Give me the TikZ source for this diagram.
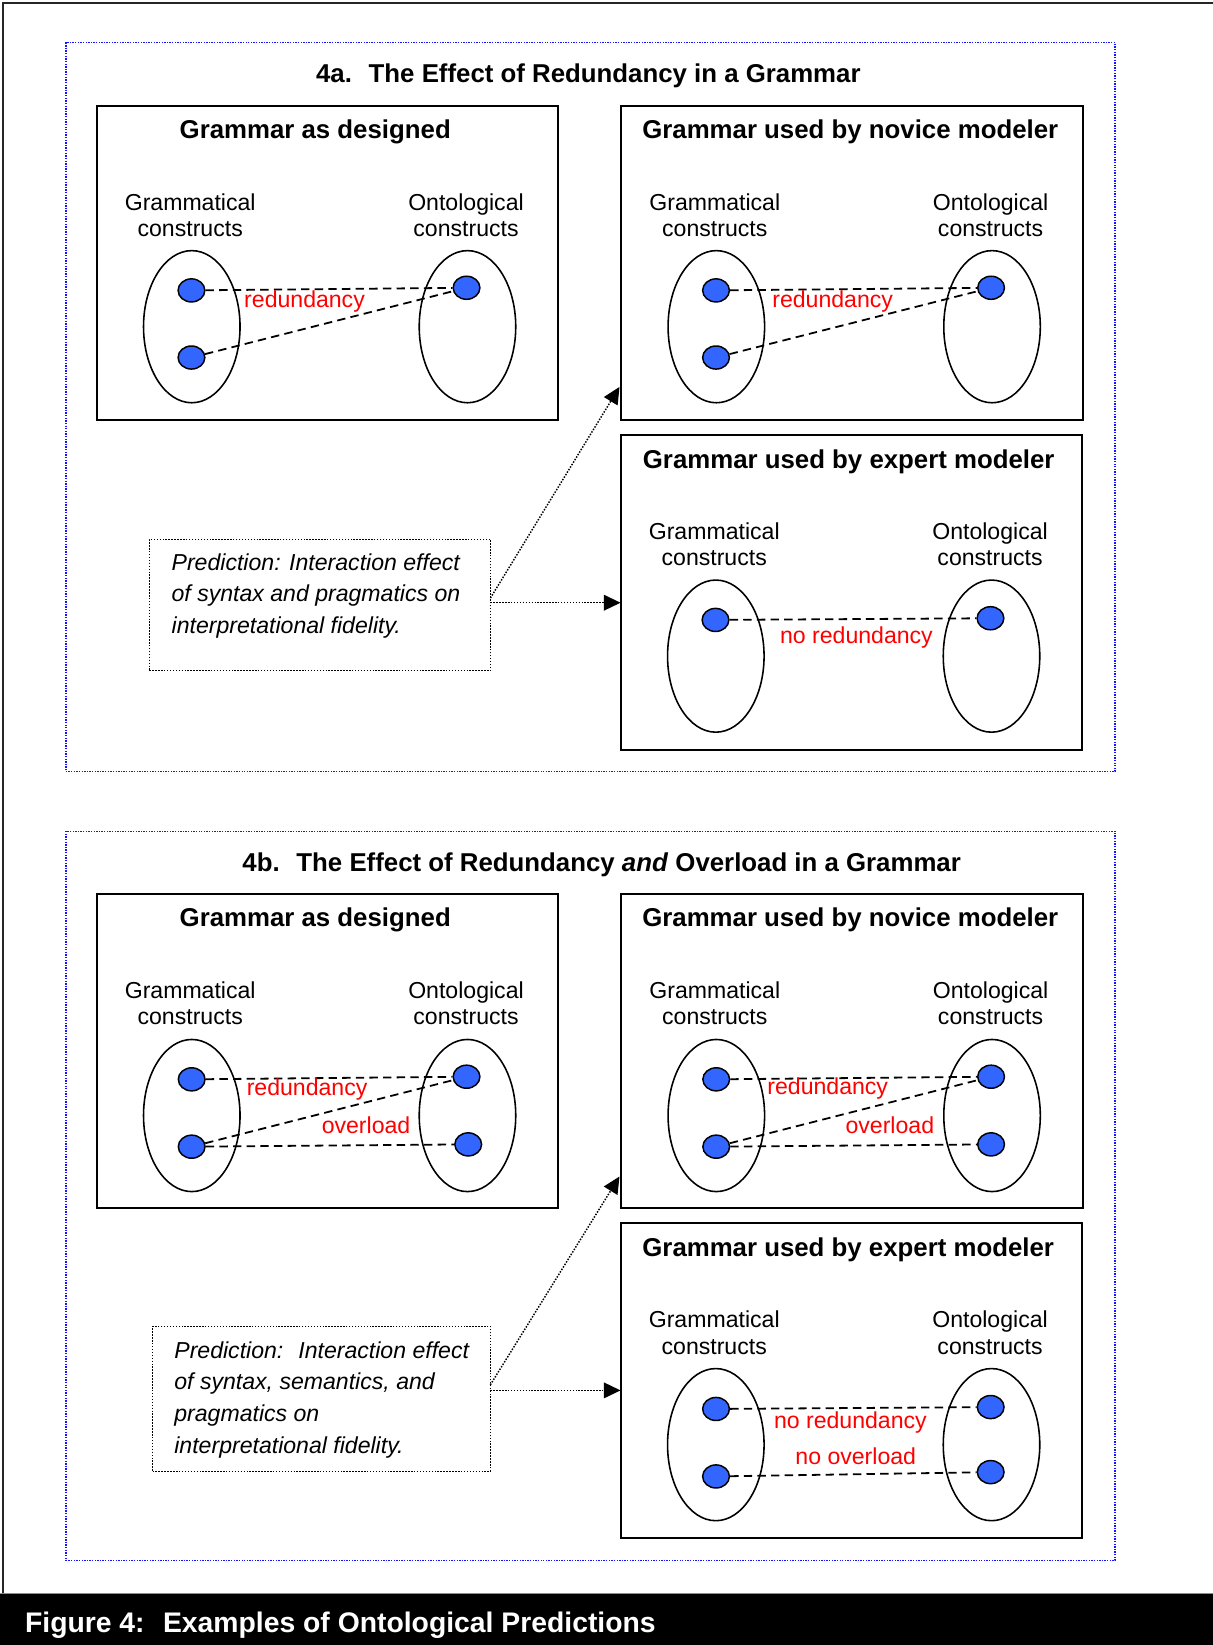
\documentclass[tikz,border=0pt]{standalone}
\usepackage{fontspec}
\setmainfont{Liberation Sans}
\usetikzlibrary{shapes.geometric,arrows.meta,calc}

\definecolor{dotblue}{RGB}{51,102,255}
\definecolor{panelblue}{RGB}{20,20,255}
\definecolor{lblred}{RGB}{255,0,0}

\tikzset{
  panel/.style={draw=panelblue, line width=1.4pt, dash pattern=on 1.3pt off 1.2pt,
    inner sep=0pt, outer sep=0pt, anchor=north west},
  gframe/.style={draw=black, line width=1.9pt, minimum width=440pt, minimum height=300pt,
    inner sep=0pt, outer sep=0pt, anchor=north west},
  predframe/.style={draw=black, line width=1.4pt, dash pattern=on 1.4pt off 1.4pt,
    inner sep=0pt, outer sep=0pt, anchor=north west},
  bigtitle/.style={font=\fontsize{24.6}{28}\selectfont\bfseries, inner sep=0pt, anchor=base},
  boxtitle/.style={font=\fontsize{24.6}{28}\selectfont\bfseries, inner sep=0pt, anchor=base},
  lbl/.style={font=\fontsize{22}{26}\selectfont, inner sep=0pt, anchor=base},
  redlbl/.style={font=\fontsize{22}{26}\selectfont, text=lblred, inner sep=0pt, anchor=base west},
  predtext/.style={font=\fontsize{22}{26}\selectfont\itshape, inner sep=0pt, anchor=base west},
  cset/.style={draw, ellipse, line width=1.5pt, minimum width=92pt, minimum height=145pt,
    inner sep=0pt},
  elem/.style={draw, ellipse, fill=dotblue, line width=1.4pt, minimum width=25.5pt,
    minimum height=22pt, inner sep=0pt},
  link/.style={draw=black, line width=1.7pt, dash pattern=on 8pt off 5pt},
  predarrow/.style={draw=black, line width=1.4pt, dash pattern=on 1.4pt off 1.4pt,
    -{Triangle[length=16pt,width=15pt]}},
  footer/.style={font=\fontsize{27}{30}\selectfont\bfseries, text=white, inner sep=0pt,
    anchor=base west}
}

% one grammar panel: name, left x, top y, heading, heading centre offset, set centre depth
\newcommand\grammarbox[6]{%
  \node[gframe] (#1) at (#2,-#3) {};
  \node[boxtitle] (#1-title) at ($(#1.north west)+(#5,-31.5)$) {#4};
  \node[lbl] (#1-gram1) at ($(#1.north west)+(89.3,-99.5)$) {Grammatical};
  \node[lbl] (#1-gram2) at ($(#1.north west)+(89.3,-124.8)$) {constructs};
  \node[lbl] (#1-onto1) at ($(#1.north west)+(352.2,-99.5)$) {Ontological};
  \node[lbl] (#1-onto2) at ($(#1.north west)+(352.2,-124.8)$) {constructs};
  \node[cset] (#1-left) at ($(#1.north west)+(90.8,-#6)$) {};
  \node[cset] (#1-right) at ($(#1.north west)+(353.6,-#6)$) {};
}

\begin{document}
\begin{tikzpicture}[x=1pt,y=1pt]
\useasboundingbox (0,0) rectangle (1156,-1568);

% page frame and caption band
\draw[line width=2.5pt, black!85] (1156,-2.7) -- (2.9,-2.7) -- (2.9,-1519.5);
\fill[black] (0,-1519.5) rectangle (1156,-1568);
\draw[line width=1pt, black!45] (0,-1519) -- (1156,-1519);
\node[footer] (caption) at (23.7,-1556) {Figure 4:~ Examples of Ontological Predictions};

% ---------------- 4a ----------------
\node[panel, minimum width=1000.2pt, minimum height=694.7pt] (panelA) at (62.7,-40.7) {};
\node[bigtitle] (titleA) at (560.8,-78.5) {4a.~ The Effect of Redundancy in a Grammar};

\grammarbox{A1}{92}{100.8}{Grammar as designed}{208.5}{210.6}
\grammarbox{A2}{592}{100.8}{Grammar used by novice modeler}{218.5}{210.6}
\grammarbox{A3}{591.5}{414.6}{Grammar used by expert modeler}{217.5}{210.8}

\node[elem] (A1-a) at ($(A1.north west)+(90.5,-176)$) {};
\node[elem] (A1-b) at ($(A1.north west)+(90.5,-240)$) {};
\node[elem] (A1-c) at ($(A1.north west)+(352.7,-173.5)$) {};
\draw[link] (A1-a) -- (A1-c);
\draw[link] (A1-b) -- (A1-c);
\node[redlbl] (A1-red) at ($(A1.north west)+(140.6,-192)$) {redundancy};

\node[elem] (A2-a) at ($(A2.north west)+(90.5,-176)$) {};
\node[elem] (A2-b) at ($(A2.north west)+(90.5,-240)$) {};
\node[elem] (A2-c) at ($(A2.north west)+(352.7,-173.5)$) {};
\draw[link] (A2-a) -- (A2-c);
\draw[link] (A2-b) -- (A2-c);
\node[redlbl] (A2-red) at ($(A2.north west)+(144,-192)$) {redundancy};

\node[elem] (A3-a) at ($(A3.north west)+(90.5,-176.3)$) {};
\node[elem] (A3-c) at ($(A3.north west)+(352.6,-174.7)$) {};
\draw[link] (A3-a) -- (A3-c);
\node[redlbl] (A3-red) at ($(A3.north west)+(151.9,-199.1)$) {no redundancy};

\node[predframe, minimum width=325.2pt, minimum height=125.2pt] (PA) at (142.3,-514) {};
\node[predtext] (PA-l1) at (163.4,-543.5) {Prediction: Interaction effect};
\node[predtext] (PA-l2) at (163.4,-573.8) {of syntax and pragmatics on};
\node[predtext] (PA-l3) at (163.4,-604) {interpretational fidelity.};

\coordinate (PAh) at ($(PA.north east)+(0,-60.5)$);
\coordinate (PAd) at ($(PA.north east)+(0,-56)$);
\coordinate (A2in) at ($(A2.south west)+(-1.5,32)$);
\draw[predarrow] (PAh) -- (PAh -| A3.west);
\draw[predarrow] (PAd) -- (A2in);

% ---------------- 4b ----------------
\node[panel, minimum width=1000.2pt, minimum height=694.9pt] (panelB) at (62.7,-792.5) {};
\node[bigtitle] (titleB) at (573.5,-830.5) {4b.~ The Effect of Redundancy \textit{and} Overload in a Grammar};

\grammarbox{B1}{92}{851.8}{Grammar as designed}{208.5}{211.5}
\grammarbox{B2}{592}{851.8}{Grammar used by novice modeler}{218.5}{211.5}
\grammarbox{B3}{591.5}{1166}{Grammar used by expert modeler}{217}{211}

\node[elem] (B1-a) at ($(B1.north west)+(90.7,-177)$) {};
\node[elem] (B1-b) at ($(B1.north west)+(90.7,-241.2)$) {};
\node[elem] (B1-c) at ($(B1.north west)+(352.7,-174.5)$) {};
\node[elem] (B1-d) at ($(B1.north west)+(354.3,-239)$) {};
\draw[link] (B1-a) -- (B1-c);
\draw[link] (B1-b) -- (B1-c);
\draw[link] (B1-b) -- (B1-d);
\node[redlbl] (B1-red) at ($(B1.north west)+(143,-192)$) {redundancy};
\node[redlbl] (B1-over) at ($(B1.north west)+(214.5,-229.1)$) {overload};

\node[elem] (B2-a) at ($(B2.north west)+(90.7,-177)$) {};
\node[elem] (B2-b) at ($(B2.north west)+(90.7,-241.2)$) {};
\node[elem] (B2-c) at ($(B2.north west)+(352.7,-174.5)$) {};
\node[elem] (B2-d) at ($(B2.north west)+(352.7,-239)$) {};
\draw[link] (B2-a) -- (B2-c);
\draw[link] (B2-b) -- (B2-c);
\draw[link] (B2-b) -- (B2-d);
\node[redlbl] (B2-red) at ($(B2.north west)+(139.3,-191.3)$) {redundancy};
\node[redlbl] (B2-over) at ($(B2.north west)+(213.8,-229.1)$) {overload};

\node[elem] (B3-a) at ($(B3.north west)+(91,-177)$) {};
\node[elem] (B3-b) at ($(B3.north west)+(91,-241.3)$) {};
\node[elem] (B3-c) at ($(B3.north west)+(352.8,-175.2)$) {};
\node[elem] (B3-d) at ($(B3.north west)+(352.8,-237.2)$) {};
\draw[link] (B3-a) -- (B3-c);
\draw[link] (B3-b) -- (B3-d);
\node[redlbl] (B3-red) at ($(B3.north west)+(146.1,-195.9)$) {no redundancy};
\node[redlbl] (B3-over) at ($(B3.north west)+(166.5,-230.2)$) {no overload};

\node[predframe, minimum width=322pt, minimum height=138.2pt] (PB) at (145.4,-1264.3) {};
\node[predtext] (PB-l1) at (166,-1294.5) {Prediction:~ Interaction effect};
\node[predtext] (PB-l2) at (166,-1324.7) {of syntax, semantics, and};
\node[predtext] (PB-l3) at (166,-1354.9) {pragmatics on};
\node[predtext] (PB-l4) at (166,-1385.7) {interpretational fidelity.};

\coordinate (PBh) at ($(PB.north east)+(0,-61)$);
\coordinate (PBd) at ($(PB.north east)+(0,-55.7)$);
\coordinate (B2in) at ($(B2.south west)+(-1.5,30.4)$);
\draw[predarrow] (PBh) -- (PBh -| B3.west);
\draw[predarrow] (PBd) -- (B2in);
\end{tikzpicture}
\end{document}
